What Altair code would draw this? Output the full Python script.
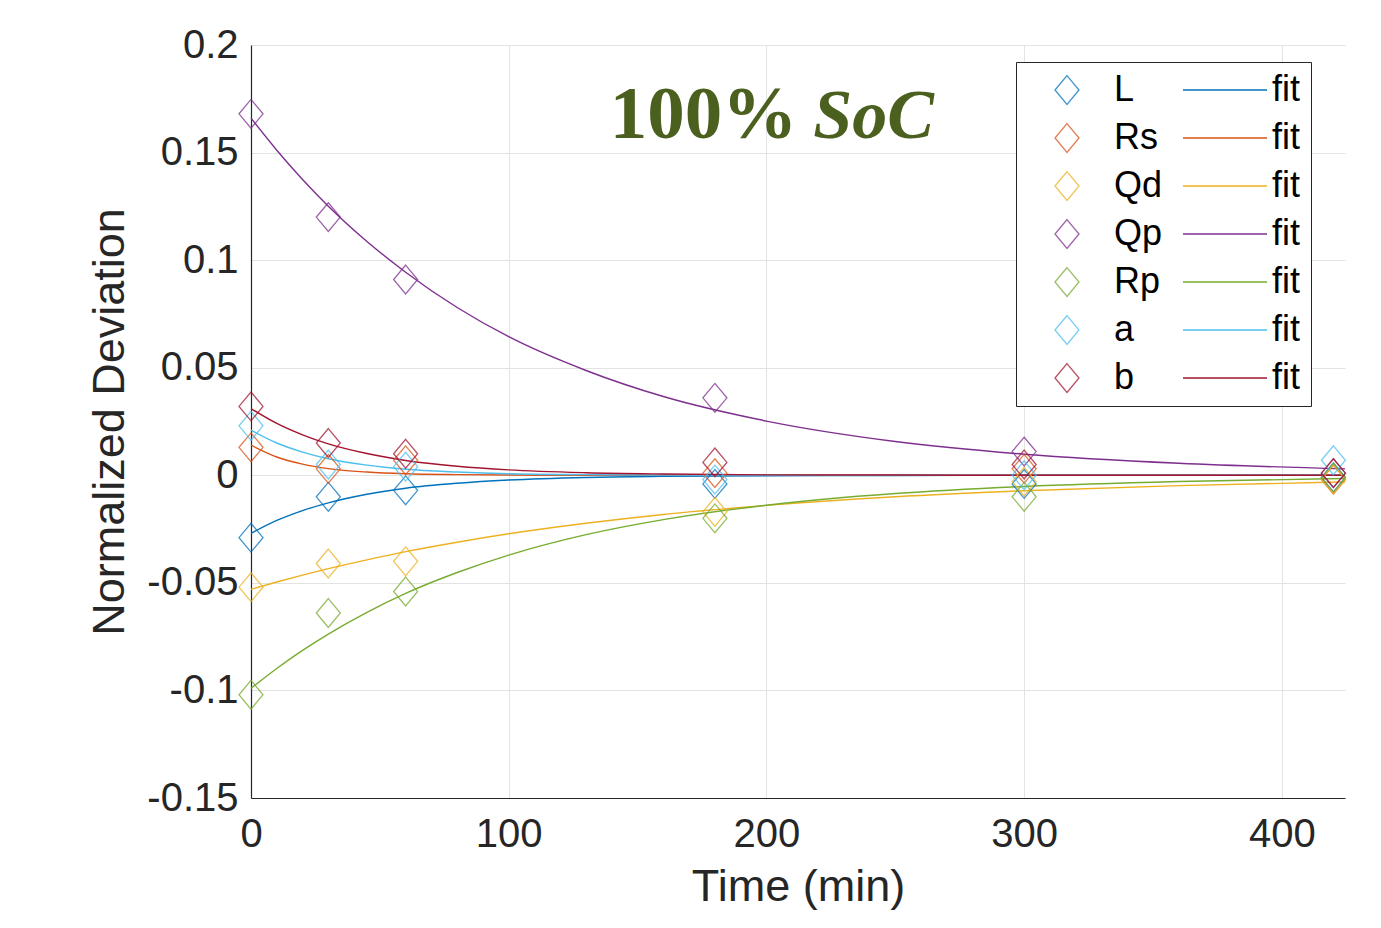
import altair as alt
import pandas as pd

# ---- data ----
params = ["L", "Rs", "Qd", "Qp", "Rp", "a", "b"]
colors = ["#0072BD", "#D95319", "#EDB120", "#7E2F8E", "#77AC30", "#4DBEEE", "#A2142F"]
fit_names = [p + " fit" for p in params]

t_meas = [0, 30, 60, 180, 300, 420]
meas_L = [-0.029, -0.010, -0.007, -0.004, -0.004, -0.001]
meas_Rs = [0.013, 0.003, 0.007, 0.001, 0.003, -0.002]
meas_Qd = [-0.052, -0.041, -0.040, -0.017, -0.003, -0.002]
meas_Qp = [0.168, 0.120, 0.091, 0.036, 0.011, 0.001]
meas_Rp = [-0.102, -0.064, -0.054, -0.020, -0.010, -0.001]
meas_a = [0.023, 0.005, 0.004, -0.002, 0.000, 0.007]
meas_b = [0.032, 0.015, 0.010, 0.006, 0.005, 0.001]

t_fit = [0, 10, 20, 30, 45, 60, 80, 100, 130, 160, 200, 250, 300, 360, 424.5]
fit_L = [-0.027, -0.0210, -0.0164, -0.0128, -0.0088, -0.0060, -0.0037, -0.0022, -0.0010, -0.0005, -0.0002, -0.0001, 0.0, 0.0, 0.0]
fit_Rs = [0.014, 0.0085, 0.0052, 0.0031, 0.0015, 0.0007, 0.0003, 0.0001, 0.0, 0.0, 0.0, 0.0, 0.0, 0.0, 0.0]
fit_Qd = [-0.053, -0.0496, -0.0464, -0.0434, -0.0393, -0.0355, -0.0311, -0.0272, -0.0223, -0.0182, -0.0140, -0.0100, -0.0072, -0.0048, -0.0031]
fit_Qp = [0.166, 0.1511, 0.1375, 0.1251, 0.1087, 0.0944, 0.0780, 0.0644, 0.0487, 0.0366, 0.0252, 0.0157, 0.0098, 0.0056, 0.0030]
fit_Rp = [-0.099, -0.0898, -0.0814, -0.0738, -0.0637, -0.0549, -0.0452, -0.0371, -0.0276, -0.0206, -0.0139, -0.0085, -0.0052, -0.0029, -0.0015]
fit_a = [0.021, 0.0150, 0.0108, 0.0077, 0.0047, 0.0028, 0.0015, 0.0007, 0.0003, 0.0001, 0.0, 0.0, 0.0, 0.0, 0.0]
fit_b = [0.031, 0.0241, 0.0188, 0.0146, 0.0101, 0.0069, 0.0042, 0.0025, 0.0012, 0.0006, 0.0002, 0.0001, 0.0, 0.0, 0.0]

x_ticks = [0, 100, 200, 300, 400]
y_ticks = [-0.15, -0.1, -0.05, 0, 0.05, 0.1, 0.15, 0.2]

annot_x = [212]
annot_y = [0.157]
annot_main = ["100%"]
annot_ital = ["SoC"]

# ---- tables ----
meas = {"L": meas_L, "Rs": meas_Rs, "Qd": meas_Qd, "Qp": meas_Qp, "Rp": meas_Rp, "a": meas_a, "b": meas_b}
fits = {"L": fit_L, "Rs": fit_Rs, "Qd": fit_Qd, "Qp": fit_Qp, "Rp": fit_Rp, "a": fit_a, "b": fit_b}

pts = pd.DataFrame([{"param": p, "t": t, "v": v}
                    for p in params for t, v in zip(t_meas, meas[p])])
fit = pd.DataFrame([{"fitparam": p + " fit", "t": t, "v": v}
                    for p in params for t, v in zip(t_fit, fits[p])])
ann = pd.DataFrame({"x": annot_x, "y": annot_y, "m": annot_main, "s": annot_ital})

FONT = "Liberation Sans"
DIAMOND = "M0,-1.2L1,0L0,1.2L-1,0Z"
LINESYM = "M-3.5,0L3.5,0"

xs = alt.Scale(domain=[0, 424.5], nice=False, zero=False)
ys = alt.Scale(domain=[-0.15, 0.2], nice=False, zero=False)

x_axis = alt.Axis(values=x_ticks, title="Time (min)", grid=True, ticks=False,
                  labelPadding=16, titlePadding=10, labelFontSize=40, titleFontSize=45,
                  labelFont=FONT, titleFont=FONT, labelColor="#262626", titleColor="#262626",
                  titleFontWeight="normal", domainColor="#262626", domainWidth=1.2,
                  gridColor="#e3e3e3", labelFlush=False)
y_axis = alt.Axis(values=y_ticks, title="Normalized Deviation", grid=True, ticks=False,
                  labelPadding=13, titlePadding=14, labelFontSize=40, titleFontSize=45,
                  labelFont=FONT, titleFont=FONT, labelColor="#262626", titleColor="#262626",
                  titleFontWeight="normal", domainColor="#262626", domainWidth=1.2,
                  gridColor="#e3e3e3", labelFlush=False,
                  labelExpr="replace(format(datum.value, '.2~f'), '\u2212', '-')")

lines = alt.Chart(fit).mark_line(strokeWidth=1.4, interpolate="monotone").encode(
    x=alt.X("t:Q", scale=xs, axis=x_axis),
    y=alt.Y("v:Q", scale=ys, axis=y_axis),
    detail="fitparam:N",
    order="t:Q",
    stroke=alt.Stroke("fitparam:N", scale=alt.Scale(domain=fit_names, range=colors),
                      legend=alt.Legend(title=None, orient="none", legendX=765, legendY=17,
                                        padding=10, fillColor="white", strokeColor="#262626",
                                        symbolType=LINESYM, symbolSize=576, symbolStrokeWidth=1.4,
                                        symbolOffset=181, labelOffset=29, rowPadding=12,
                                        labelFontSize=36, labelFont=FONT, labelColor="#000000",
                                        labelExpr="'fit'", zindex=1)),
)

points = alt.Chart(pts).mark_point(filled=False, shape=DIAMOND, size=576, strokeWidth=1.3,
                                   opacity=0.75).encode(
    x=alt.X("t:Q", scale=xs, axis=x_axis),
    y=alt.Y("v:Q", scale=ys, axis=y_axis),
    color=alt.Color("param:N", scale=alt.Scale(domain=params, range=colors),
                    legend=alt.Legend(title=None, orient="none", legendX=798, legendY=27,
                                      padding=0, symbolType=DIAMOND, symbolSize=576,
                                      symbolStrokeWidth=1.3, symbolOpacity=0.75,
                                      labelOffset=29, rowPadding=12,
                                      labelFontSize=36, labelFont=FONT, labelColor="#000000",
                                      zindex=2)),
)

t_main = alt.Chart(ann).mark_text(align="right", baseline="alphabetic", font="Liberation Serif",
                                  fontSize=75, fontWeight="bold", color="#4b5f1e").encode(
    x=alt.X("x:Q", scale=xs), y=alt.Y("y:Q", scale=ys), text="m:N")
t_ital = alt.Chart(ann).mark_text(align="left", baseline="alphabetic", font="Liberation Serif",
                                  fontSize=70, fontWeight="bold", fontStyle="italic",
                                  color="#4b5f1e", dx=16).encode(
    x=alt.X("x:Q", scale=xs), y=alt.Y("y:Q", scale=ys), text="s:N")

chart = alt.layer(lines, points, t_main, t_ital).properties(
    width=1094, height=753,
    autosize=alt.AutoSizeParams(type="none"),
    padding={"left": 243, "top": 37, "right": 28, "bottom": 122},
    background="white",
).configure_view(strokeWidth=0)

chart.save("out.html", embed_options={"renderer": "svg", "actions": False})
